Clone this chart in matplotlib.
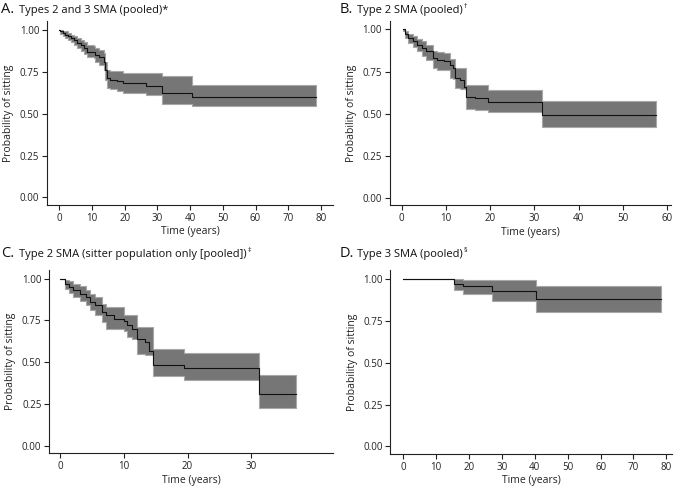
import matplotlib
matplotlib.use("Agg")
import matplotlib.pyplot as plt
from matplotlib.transforms import offset_copy

plt.rcParams['font.family'] = ['Open Sans', 'DejaVu Sans']

# ---------------- data ----------------
# Panel A: Types 2 and 3 SMA (pooled)
a_time = [0, 0.3, 1.0, 1.8, 2.5, 3.5, 4.5, 5.5, 6.5, 7.5, 8.5, 10.5, 11.0, 12.0, 13.5, 14.0, 14.5, 15.5, 17.5, 19.5, 26.5, 31.5, 40.5, 78.5]
a_surv = [1.0, 0.99, 0.98, 0.97, 0.96, 0.95, 0.94, 0.92, 0.91, 0.89, 0.87, 0.865, 0.85, 0.84, 0.81, 0.76, 0.715, 0.70, 0.695, 0.68, 0.665, 0.62, 0.60, 0.60]
a_lo   = [1.0, 0.975, 0.965, 0.95, 0.94, 0.925, 0.91, 0.89, 0.875, 0.855, 0.835, 0.83, 0.81, 0.79, 0.76, 0.70, 0.655, 0.645, 0.635, 0.625, 0.61, 0.56, 0.545, 0.545]
a_hi   = [1.0, 1.0, 0.995, 0.99, 0.98, 0.97, 0.965, 0.95, 0.94, 0.925, 0.91, 0.905, 0.89, 0.88, 0.86, 0.81, 0.76, 0.756, 0.756, 0.74, 0.74, 0.725, 0.67, 0.67]

# Panel B: Type 2 SMA (pooled)
b_time = [0.3, 0.8, 1.5, 2.5, 3.5, 4.5, 5.5, 7.0, 8.0, 9.5, 11.0, 11.7, 12.1, 13.2, 14.0, 14.6, 16.5, 19.5, 31.8, 57.4]
b_surv = [1.0, 0.97, 0.95, 0.93, 0.91, 0.89, 0.87, 0.83, 0.82, 0.81, 0.79, 0.77, 0.71, 0.70, 0.66, 0.60, 0.59, 0.57, 0.49, 0.49]
b_lo   = [0.99, 0.95, 0.92, 0.895, 0.87, 0.845, 0.82, 0.77, 0.76, 0.757, 0.71, 0.707, 0.65, 0.648, 0.648, 0.53, 0.52, 0.508, 0.418, 0.418]
b_hi   = [1.0, 0.99, 0.975, 0.96, 0.945, 0.93, 0.91, 0.87, 0.866, 0.86, 0.827, 0.827, 0.773, 0.773, 0.773, 0.667, 0.667, 0.643, 0.573, 0.573]

# Panel C: Type 2 SMA (sitter population only [pooled])
c_time = [0, 0.7, 1.3, 2.0, 3.0, 4.0, 4.7, 5.5, 6.5, 7.2, 8.5, 10.0, 10.5, 11.3, 12.0, 13.3, 14.0, 14.5, 19.5, 31.3, 37.1]
c_surv = [1.0, 0.97, 0.95, 0.93, 0.91, 0.89, 0.86, 0.84, 0.80, 0.78, 0.76, 0.745, 0.72, 0.70, 0.637, 0.62, 0.566, 0.486, 0.466, 0.31, 0.31]
c_lo   = [1.0, 0.94, 0.915, 0.89, 0.865, 0.845, 0.81, 0.785, 0.74, 0.70, 0.70, 0.685, 0.65, 0.637, 0.55, 0.546, 0.546, 0.416, 0.396, 0.229, 0.229]
c_hi   = [1.0, 0.995, 0.985, 0.97, 0.955, 0.935, 0.91, 0.89, 0.85, 0.828, 0.828, 0.781, 0.781, 0.781, 0.713, 0.713, 0.713, 0.577, 0.557, 0.426, 0.426]

# Panel D: Type 3 SMA (pooled)
d_time = [0, 15.3, 18.3, 27.0, 40.5, 78.4]
d_surv = [1.0, 0.97, 0.954, 0.924, 0.878, 0.878]
d_lo   = [1.0, 0.934, 0.906, 0.868, 0.804, 0.804]
d_hi   = [1.0, 1.0, 0.994, 0.99, 0.956, 0.956]

panels = [
    ("A.", "Types 2 and 3 SMA (pooled)*", "", a_time, a_surv, a_lo, a_hi, [0, 10, 20, 30, 40, 50, 60, 70, 80], (-3.8, 83.7)),
    ("B.", "Type 2 SMA (pooled)", "\u2020", b_time, b_surv, b_lo, b_hi, [0, 10, 20, 30, 40, 50, 60], (-2.7, 60.9)),
    ("C.", "Type 2 SMA (sitter population only [pooled])", "\u2021", c_time, c_surv, c_lo, c_hi, [0, 10, 20, 30], (-1.8, 42.9)),
    ("D.", "Type 3 SMA (pooled)", "\u00a7", d_time, d_surv, d_lo, d_hi, [0, 10, 20, 30, 40, 50, 60, 70, 80], (-3.95, 81.8)),
]
yticks = [0.0, 0.25, 0.5, 0.75, 1.0]

# axes rectangles [left, bottom, width, height] in figure fraction
rects = [
    [0.0694, 0.5816, 0.4225, 0.3755],
    [0.5756, 0.5810, 0.4160, 0.3768],
    [0.0724, 0.0749, 0.4196, 0.3741],
    [0.5765, 0.0735, 0.4165, 0.3755],
]
title_pos = [(0.002, 0.973), (0.502, 0.973), (0.002, 0.476), (0.502, 0.476)]

fig = plt.figure(figsize=(6.77, 4.90), dpi=100)
renderer = fig.canvas.get_renderer()

for (letter, sub, sup, t, s, lo, hi, xt, xl), rect, (tx, ty) in zip(panels, rects, title_pos):
    ax = fig.add_axes(rect)
    ax.fill_between(t, lo, hi, step='post', facecolor='#767676', edgecolor='#a8a8a8', linewidth=0.8, zorder=1)
    ax.step(t, s, where='post', color='#111111', linewidth=0.8, zorder=2)
    ax.set_xlim(*xl)
    ax.set_ylim(-0.045, 1.052)
    ax.set_xticks(xt)
    ax.set_xticklabels([str(v) for v in xt])
    ax.set_yticks(yticks)
    ax.set_yticklabels(["%.2f" % v for v in yticks])
    for sp in ['top', 'right']:
        ax.spines[sp].set_visible(False)
    for sp in ['left', 'bottom']:
        ax.spines[sp].set_linewidth(0.8)
        ax.spines[sp].set_color('#222222')
    ax.tick_params(axis='both', direction='out', length=3.5, width=0.8, color='#222222',
                   labelsize=7, labelcolor='#222222', pad=2)
    ax.set_xlabel("Time (years)", fontsize=7.5, color='#222222', labelpad=2)
    ax.set_ylabel("Probability of sitting", fontsize=7.5, color='#222222', labelpad=4)
    fig.text(tx, ty, letter, fontsize=10.5, color='#111111', va='baseline', ha='left')
    st = fig.text(tx + 0.026, ty, sub, fontsize=8, color='#111111', va='baseline', ha='left')
    if sup:
        bb = st.get_window_extent(renderer=renderer)
        x_end = bb.x1 / fig.bbox.width
        fig.text(x_end + 0.001, ty + 0.010, sup, fontsize=5, color='#111111', va='baseline', ha='left')

fig.savefig("out.png", dpi=100)
